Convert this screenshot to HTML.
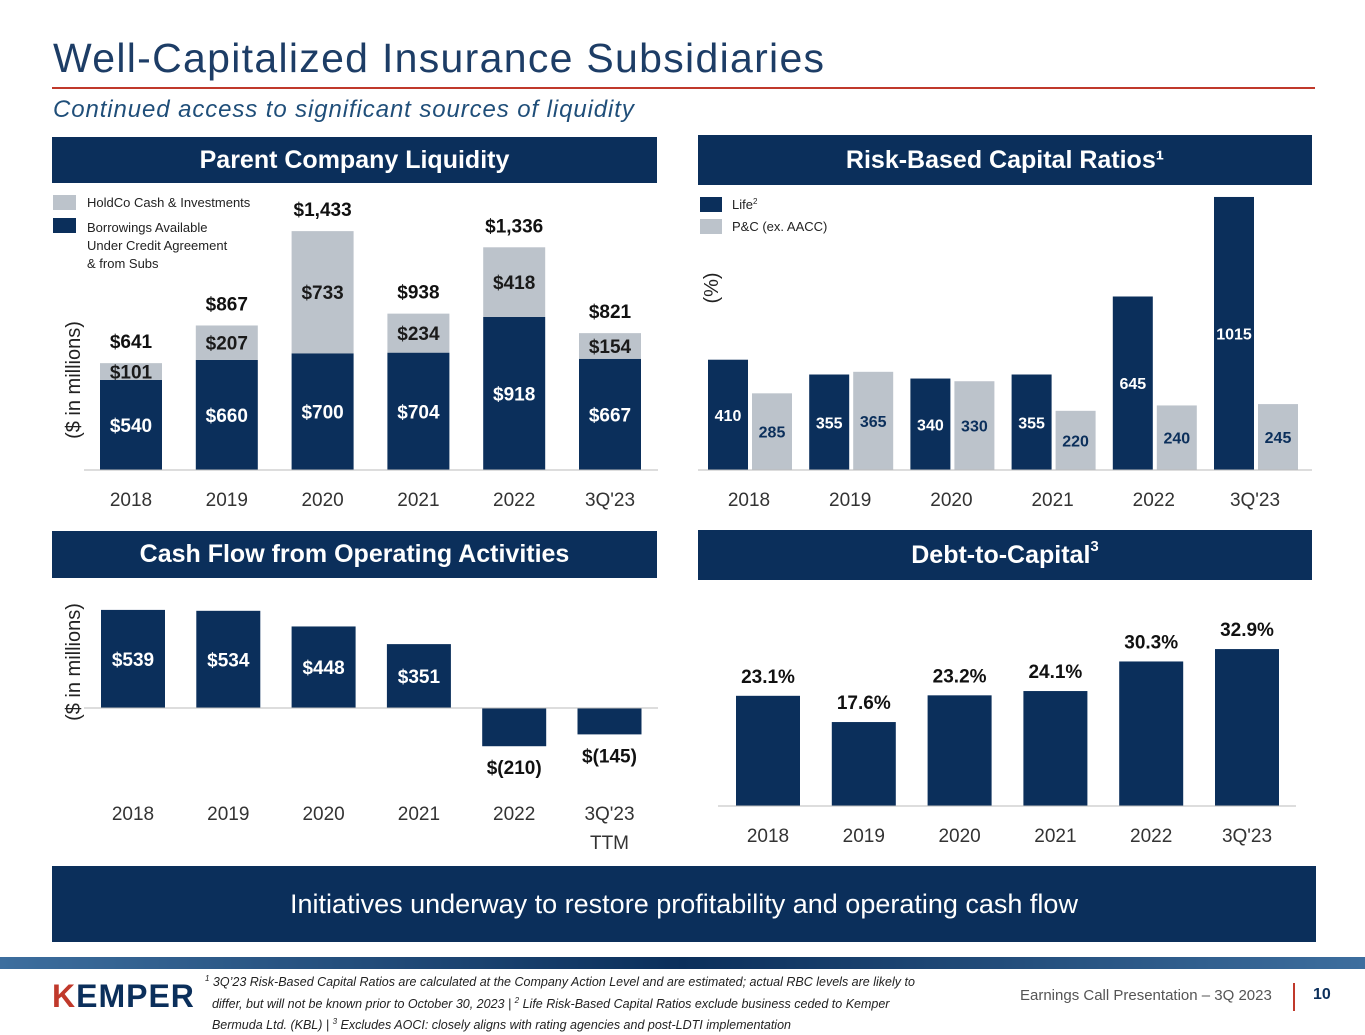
<!DOCTYPE html>
<html><head><meta charset="utf-8">
<style>
body{margin:0;width:1365px;height:1024px;background:#fff;font-family:"Liberation Sans",sans-serif;position:relative;overflow:hidden}
.abs{position:absolute}
.hdr{position:absolute;background:#0b2f5b;color:#fff;font-weight:bold;font-size:25px;text-align:center;display:flex;align-items:center;justify-content:center}
svg text{font-family:"Liberation Sans",sans-serif}
</style></head><body>
<div class="abs" style="left:53px;top:35px;font-size:41px;letter-spacing:1.3px;color:#1d3d66">Well-Capitalized Insurance Subsidiaries</div>
<div class="abs" style="left:52px;top:87px;width:1263px;height:2px;background:#c0392b"></div>
<div class="abs" style="left:53px;top:96px;font-size:24px;letter-spacing:0.9px;font-style:italic;color:#1f4e79">Continued access to significant sources of liquidity</div>
<div class="hdr" style="left:52px;top:137px;width:605px;height:46px">Parent Company Liquidity</div>
<div class="hdr" style="left:698px;top:135px;width:614px;height:50px">Risk-Based Capital Ratios¹</div>
<div class="hdr" style="left:52px;top:531px;width:605px;height:47px">Cash Flow from Operating Activities</div>
<div class="hdr" style="left:698px;top:530px;width:614px;height:50px">Debt-to-Capital<span style="font-size:15px;position:relative;top:-9px">3</span></div>
<div class="hdr" style="left:52px;top:866px;width:1264px;height:76px;font-weight:normal;font-size:27px">Initiatives underway to restore profitability and operating cash flow</div>

<svg class="abs" style="left:0;top:0" width="1365" height="1024" id="charts">
<rect x="53" y="195" width="23" height="15" fill="#bcc3cb"/>
<text x="87" y="207" font-size="13" fill="#222">HoldCo Cash &amp; Investments</text>
<rect x="53" y="218" width="23" height="15" fill="#0b2f5b"/>
<text font-size="13" fill="#222"><tspan x="87" y="232">Borrowings Available</tspan><tspan x="87" y="250">Under Credit Agreement</tspan><tspan x="87" y="268">&amp; from Subs</tspan></text>
<rect x="700" y="197" width="22" height="15" fill="#0b2f5b"/>
<text x="732" y="209" font-size="13" fill="#222">Life<tspan font-size="8" dy="-5">2</tspan></text>
<rect x="700" y="219" width="22" height="15" fill="#bcc3cb"/>
<text x="732" y="231" font-size="13" fill="#222">P&amp;C (ex. AACC)</text>
<text transform="translate(80,380) rotate(-90)" text-anchor="middle" font-size="20" fill="#222">($ in millions)</text>
<text transform="translate(80,662) rotate(-90)" text-anchor="middle" font-size="20" fill="#222">($ in millions)</text>
<text transform="translate(718,288) rotate(-90)" text-anchor="middle" font-size="20" fill="#222">(%)</text>
<g id="g"></g>
</svg>

<div class="abs" style="left:0;top:957px;width:1365px;height:12px;background:linear-gradient(90deg,#3d6e9e,#0b2f5b 50%,#3d6e9e)"></div>
<div class="abs" style="left:52px;top:978px;font-size:32px;font-weight:bold;color:#0b2f5b;letter-spacing:1px"><span style="color:#c0392b">K</span>EMPER</div>
<div class="abs" style="left:205px;top:970px;width:820px;font-size:12.5px;font-style:italic;line-height:18.5px;color:#222;white-space:nowrap"><sup style="font-size:8px">1</sup> 3Q’23 Risk-Based Capital Ratios are calculated at the Company Action Level and are estimated; actual RBC levels are likely to<br>&nbsp;&nbsp;differ, but will not be known prior to October 30, 2023 | <sup style="font-size:8px">2</sup> Life Risk-Based Capital Ratios exclude business ceded to Kemper<br>&nbsp;&nbsp;Bermuda Ltd. (KBL) | <sup style="font-size:8px">3</sup> Excludes AOCI: closely aligns with rating agencies and post-LDTI implementation</div>
<div class="abs" style="left:1020px;top:987px;font-size:15px;color:#555">Earnings Call Presentation – 3Q 2023</div>
<div class="abs" style="left:1293px;top:983px;width:2px;height:28px;background:#c0392b"></div>
<div class="abs" style="left:1313px;top:986px;font-size:16px;font-weight:bold;color:#0b2f5b">10</div>

<script>
const years=["2018","2019","2020","2021","2022","3Q'23"];
const borrowVals=[540,660,700,704,918,667];
const holdcoVals=[101,207,733,234,418,154];
const totalVals=[641,867,1433,938,1336,821];
const lifeVals=[410,355,340,355,645,1015];
const pcVals=[285,365,330,220,240,245];
const cashYears=["2018","2019","2020","2021","2022","3Q'23"];
const cashVals=[539,534,448,351,-210,-145];
const debtVals=[23.1,17.6,23.2,24.1,30.3,32.9];
const NAVY="#0b2f5b",GRAY="#bcc3cb";
const g=document.getElementById('g');
const NS="http://www.w3.org/2000/svg";
function mk(tag,a,txt){const e=document.createElementNS(NS,tag);for(const k in a)e.setAttribute(k,a[k]);if(txt!=null)e.textContent=txt;g.appendChild(e);return e;}
function fmt(v){return v<0?"$("+(-v)+")":"$"+v.toLocaleString('en-US');}
const x1=i=>131+i*95.8, y1=v=>470-v*0.1667;
years.forEach((c,i)=>{
 let r=mk('rect',{x:x1(i)-31,y:y1(borrowVals[i]),width:62,height:470-y1(borrowVals[i]),fill:NAVY});
 
 const top=y1(borrowVals[i]+holdcoVals[i]);
 r=mk('rect',{x:x1(i)-31,y:top,width:62,height:y1(borrowVals[i])-top,fill:GRAY});
 
 mk('text',{x:x1(i),y:(y1(borrowVals[i])+470)/2+7,'text-anchor':'middle','font-size':19,'font-weight':'bold',fill:'#fff'},fmt(borrowVals[i]));
 mk('text',{x:x1(i),y:(top+y1(borrowVals[i]))/2+7,'text-anchor':'middle','font-size':19,'font-weight':'bold',fill:'#1a1a1a'},fmt(holdcoVals[i]));
 mk('text',{x:x1(i),y:y1(totalVals[i])-15,'text-anchor':'middle','font-size':19,'font-weight':'bold',fill:'#111'},fmt(totalVals[i]));
 mk('text',{x:x1(i),y:506,'text-anchor':'middle','font-size':19,fill:'#333'},c);
});
mk('line',{x1:84,x2:658,y1:470,y2:470,stroke:'#bbb'});
const x2=i=>749+i*101.2, y2=v=>470-v*0.269;
years.forEach((c,i)=>{
 let r=mk('rect',{x:x2(i)-41,y:y2(lifeVals[i]),width:40,height:470-y2(lifeVals[i]),fill:NAVY});
 
 r=mk('rect',{x:x2(i)+3,y:y2(pcVals[i]),width:40,height:470-y2(pcVals[i]),fill:GRAY});
 
 mk('text',{x:x2(i)-21,y:(y2(lifeVals[i])+470)/2+6,'text-anchor':'middle','font-size':16,'font-weight':'bold',fill:'#fff'},lifeVals[i]);
 mk('text',{x:x2(i)+23,y:(y2(pcVals[i])+470)/2+6,'text-anchor':'middle','font-size':16,'font-weight':'bold',fill:NAVY},pcVals[i]);
 mk('text',{x:x2(i),y:506,'text-anchor':'middle','font-size':19,fill:'#333'},c);
});
mk('line',{x1:698,x2:1312,y1:470,y2:470,stroke:'#bbb'});
const x3=i=>133+i*95.3, y3=v=>708-v*0.182;
cashYears.forEach((c,i)=>{
 const v=cashVals[i],t=Math.min(y3(v),708),h=Math.abs(y3(v)-708);
 const r=mk('rect',{x:x3(i)-32,y:t,width:64,height:h,fill:NAVY});
 
 if(v>=0) mk('text',{x:x3(i),y:(t+708)/2+7,'text-anchor':'middle','font-size':19,'font-weight':'bold',fill:'#fff'},fmt(v));
 else mk('text',{x:x3(i),y:y3(v)+28,'text-anchor':'middle','font-size':19,'font-weight':'bold',fill:'#111'},fmt(v));
 mk('text',{x:x3(i),y:820,'text-anchor':'middle','font-size':19,fill:'#333'},c);
});
mk('text',{x:x3(5),y:849,'text-anchor':'middle','font-size':19,fill:'#333'},'TTM');
mk('line',{x1:84,x2:658,y1:708,y2:708,stroke:'#bbb'});
const x4=i=>768+i*95.8, y4=v=>806-v*4.77;
years.forEach((c,i)=>{
 const r=mk('rect',{x:x4(i)-32,y:y4(debtVals[i]),width:64,height:806-y4(debtVals[i]),fill:NAVY});
 
 mk('text',{x:x4(i),y:y4(debtVals[i])-13,'text-anchor':'middle','font-size':19,'font-weight':'bold',fill:'#111'},debtVals[i].toFixed(1)+'%');
 mk('text',{x:x4(i),y:842,'text-anchor':'middle','font-size':19,fill:'#333'},c);
});
mk('line',{x1:718,x2:1296,y1:806,y2:806,stroke:'#bbb'});
</script>
</body></html>
